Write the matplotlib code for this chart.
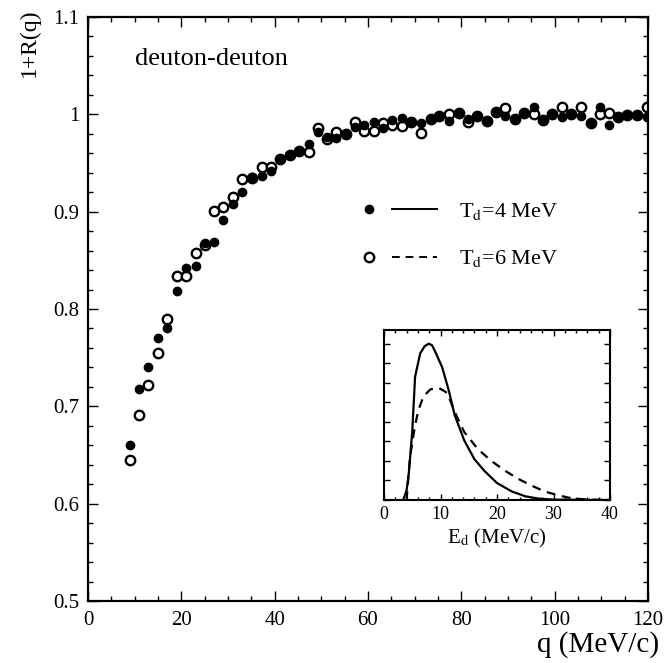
import matplotlib
matplotlib.use("Agg")
import matplotlib.pyplot as plt
from matplotlib.lines import Line2D
from matplotlib.legend_handler import HandlerTuple
from matplotlib.ticker import MultipleLocator, FixedLocator, FixedFormatter

plt.rcParams['font.family'] = ['Liberation Serif', 'DejaVu Serif']
plt.rcParams['mathtext.fontset'] = 'stix'

# correlation function points
q = [8.9, 10.9, 12.9, 15.0, 16.9, 19.0, 21.0, 23.1, 25.1, 27.0, 28.9, 31.0, 33.1, 35.1,
     37.2, 39.2, 41.2, 43.3, 45.3, 47.3, 49.2, 51.2, 53.2, 55.3, 57.3, 59.2, 61.2, 63.2,
     65.2, 67.3, 69.3, 71.4, 73.4, 75.3, 77.4, 79.4, 81.4, 83.4, 85.4, 87.4, 89.4, 91.5,
     93.5, 95.5, 97.5, 99.5, 101.5, 103.6, 105.6, 107.7, 109.7, 111.6, 113.6, 115.6,
     117.6, 119.7]
r_td4 = [0.660, 0.718, 0.740, 0.770, 0.780, 0.818, 0.842, 0.844, 0.868, 0.869, 0.891,
         0.908, 0.920, 0.936, 0.937, 0.942, 0.954, 0.958, 0.962, 0.970, 0.982, 0.977,
         0.976, 0.980, 0.987, 0.989, 0.992, 0.986, 0.994, 0.996, 0.992, 0.991, 0.995,
         0.998, 0.993, 1.001, 0.995, 0.998, 0.993, 1.002, 0.998, 0.995, 1.001, 1.008,
         0.994, 1.000, 0.997, 1.000, 0.998, 0.991, 1.008, 0.989, 0.997, 0.999, 0.999,
         0.997]
r_td6 = [0.645, 0.691, 0.722, 0.755, 0.790, 0.834, 0.834, 0.858, 0.866, 0.901, 0.905,
         0.915, 0.934, 0.935, 0.946, 0.946, 0.954, 0.958, 0.962, 0.961, 0.986, 0.975,
         0.982, 0.980, 0.992, 0.983, 0.983, 0.991, 0.989, 0.988, 0.992, 0.981, 0.995,
         0.998, 1.000, 1.001, 0.992, 0.998, 0.993, 1.002, 1.006, 0.995, 1.001, 1.000,
         0.994, 1.000, 1.008, 1.000, 1.008, 0.991, 1.000, 1.001, 0.997, 0.999, 0.999,
         1.008]

# inset: deuteron energy spectra
e_td4 = [3.4, 4.0, 4.4, 5.0, 5.5, 6.4, 7.2, 7.9, 8.5, 9.1, 10.3, 11.5, 12.5, 14.2, 16.0,
         17.8, 20.0, 22.6, 25.0, 27.4, 30.0, 40.0]
p_td4 = [0.0, 0.005, 0.014, 0.035, 0.063, 0.075, 0.0787, 0.080, 0.0792, 0.0757, 0.0679,
         0.0557, 0.0435, 0.0305, 0.0209, 0.0148, 0.0087, 0.0044, 0.0019, 0.0007, 0.0002,
         0.0]
e_td6 = [4.0, 4.6, 5.5, 6.1, 7.0, 8.2, 9.7, 11.2, 12.5, 14.2, 16.6, 19.0, 21.3, 23.7, 26.1,
         28.4, 30.8, 33.2, 36.0, 40.0]
p_td6 = [0.0, 0.0218, 0.0383, 0.0461, 0.0531, 0.0566, 0.0574, 0.0548, 0.0452, 0.0348,
         0.0261, 0.020, 0.0152, 0.0109, 0.0074, 0.0044, 0.0024, 0.0009, 0.0002, 0.0]

ytick_vals = [0.5, 0.6, 0.7, 0.8, 0.9, 1.0, 1.1]
ytick_text = ['0.5', '0.6', '0.7', '0.8', '0.9', '1', '1.1']

fig = plt.figure(figsize=(6.7, 6.63), dpi=100)
ax = fig.add_axes([88/670, 62/663, 560/670, 584/663])

ax.plot(q, r_td6, 'o', mfc='white', mec='k', ms=6.8, mew=1.7, ls='none')
ax.plot(q, r_td4, 'o', color='k', ms=6.0, ls='none')

ax.set_xlim(0, 120)
ax.set_ylim(0.5, 1.1)
ax.xaxis.set_major_locator(MultipleLocator(20))
ax.xaxis.set_minor_locator(MultipleLocator(5))
ax.yaxis.set_major_locator(FixedLocator(ytick_vals))
ax.yaxis.set_major_formatter(FixedFormatter(ytick_text))
ax.yaxis.set_minor_locator(MultipleLocator(0.02))
ax.tick_params(which='both', direction='in', top=True, right=True, width=1.0, labelsize=15)
ax.tick_params(which='major', length=7)
ax.tick_params(which='minor', length=3.5)
ax.tick_params(axis='x', pad=7)
ax.tick_params(axis='y', pad=6)
for s in ax.spines.values():
    s.set_linewidth(1.6)

ax.set_xlabel('q (MeV/c)', fontsize=21, ha='right', va='center')
ax.xaxis.set_label_coords(1.02, -0.075)
# ylabel is anchored: 'right' puts the end of the string at the top
ax.set_ylabel('1+R(q)', fontsize=17, ha='right', va='center')
ax.yaxis.set_label_coords(-0.104, 1.015)

ax.text(0.084, 0.918, 'deuton-deuton', transform=ax.transAxes, fontsize=19, va='baseline')

h4 = (Line2D([], [], marker='o', color='k', ls='none', ms=6.0),
      Line2D([], [], color='k', lw=1.4))
h6 = (Line2D([], [], marker='o', mfc='white', mec='k', ls='none', ms=6.8, mew=1.7),
      Line2D([], [], color='k', lw=1.4, dashes=(4, 3)))
fig.legend([h4, h6], [r'T$_{\mathrm{d}}$=4 MeV', r'T$_{\mathrm{d}}$=6 MeV'],
           handler_map={tuple: HandlerTuple(ndivide=None, pad=0.05)},
           loc='center left', bbox_to_anchor=(346/670, 1 - 235/663),
           frameon=False, fontsize=16, handlelength=4.1, handletextpad=1.0,
           borderpad=0, borderaxespad=0, labelspacing=1.2)

axin = fig.add_axes([384/670, 163/663, 226/670, 170/663])
axin.plot(e_td4, p_td4, color='k', lw=1.6)
axin.plot(e_td6, p_td6, color='k', lw=1.6, dashes=(4, 3))
axin.set_xlim(0, 40)
axin.set_ylim(0, 0.087)
axin.xaxis.set_major_locator(MultipleLocator(10))
axin.xaxis.set_minor_locator(MultipleLocator(2))
axin.yaxis.set_major_locator(MultipleLocator(0.01))
axin.set_yticklabels([])
axin.tick_params(which='both', direction='in', top=True, right=True, width=1.0, labelsize=13)
axin.tick_params(which='major', length=4)
axin.tick_params(which='minor', length=2.5)
axin.tick_params(axis='x', pad=4)
for s in axin.spines.values():
    s.set_linewidth(1.5)
axin.set_xlabel(r'E$_{\mathrm{d}}$ (MeV/c)', fontsize=15, labelpad=3)

fig.savefig('out.png', dpi=100)
